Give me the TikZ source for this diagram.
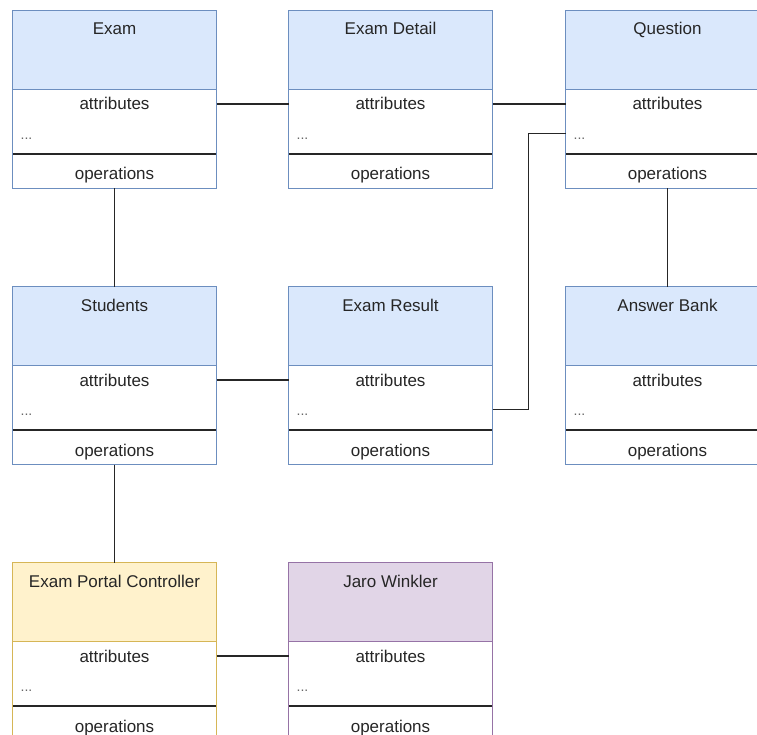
\documentclass[tikz,border=0pt]{standalone}
\usepackage{fontspec}
\setmainfont{Liberation Sans}
\usetikzlibrary{calc}
\definecolor{bluefill}{HTML}{DAE8FC}
\definecolor{bluestroke}{HTML}{6C8EBF}
\definecolor{yellowfill}{HTML}{FFF2CC}
\definecolor{yellowstroke}{HTML}{D6B656}
\definecolor{purplefill}{HTML}{E1D5E7}
\definecolor{purplestroke}{HTML}{9673A6}
\tikzset{
  umlframe/.style={rectangle, minimum width=204pt, minimum height=178pt, inner sep=0pt, outer sep=0pt, anchor=north west},
  lbl/.style={font=\fontsize{17}{20}\selectfont, text=black!85, inner sep=0pt, anchor=base},
  dotslbl/.style={font=\fontsize{14}{16}\selectfont, text=black!60, inner sep=0pt, anchor=base west},
  conn/.style={draw=black!85, line width=1.4pt},
}
\newcommand{\umlbox}[6]{%
  \node[umlframe, fill=white] (#1) at (#2,#3) {};
  \fill[#5] (#1.north west) rectangle ($(#1.north east)+(0,-79)$);
  \draw[#6, line width=1.1pt] ($(#1.north west)+(0,-79)$) -- ($(#1.north east)+(0,-79)$);
  \draw[black!85, line width=1.4pt] ($(#1.north west)+(0,-143.5)$) -- ($(#1.north east)+(0,-143.5)$);
  \draw[#6, line width=1.1pt] (#1.north west) rectangle (#1.south east);
  \node[lbl] (#1-t) at ($(#1.north)+(0,-24.5)$) {#4};
  \node[lbl] (#1-a) at ($(#1.north)+(0,-99.5)$) {attributes};
  \node[dotslbl] (#1-d) at ($(#1.north west)+(8,-129)$) {...};
  \node[lbl] (#1-o) at ($(#1.north)+(0,-169.5)$) {operations};
}
\begin{document}
\begin{tikzpicture}[x=1pt,y=1pt]
\clip (0,0) rectangle (757,-735);
\fill[white] (0,0) rectangle (757,-735);

\umlbox{exam}{12.5}{-10.5}{Exam}{bluefill}{bluestroke}
\umlbox{detail}{288.5}{-10.5}{Exam Detail}{bluefill}{bluestroke}
\umlbox{question}{565.5}{-10.5}{Question}{bluefill}{bluestroke}
\umlbox{students}{12.5}{-286.5}{Students}{bluefill}{bluestroke}
\umlbox{result}{288.5}{-286.5}{Exam Result}{bluefill}{bluestroke}
\umlbox{answer}{565.5}{-286.5}{Answer Bank}{bluefill}{bluestroke}
\umlbox{controller}{12.5}{-562.5}{Exam Portal Controller}{yellowfill}{yellowstroke}
\umlbox{jaro}{288.5}{-562.5}{Jaro Winkler}{purplefill}{purplestroke}

\draw[conn] (exam.east |- exam-a) -- (detail.west |- exam-a);
\draw[conn] (detail.east |- detail-a) -- (question.west |- detail-a);
\draw[conn] (exam.south) -- (students.north);
\draw[conn] (question.south) -- (answer.north);
\draw[conn] (students.east |- students-a) -- (result.west |- students-a);
\draw[conn] ($(result.north east)+(0,-123)$) -- ++(36,0) |- ($(question.north west)+(0,-123)$);
\draw[conn] (students.south) -- (controller.north);
\draw[conn] (controller.east |- controller-a) -- (jaro.west |- controller-a);
\end{tikzpicture}
\end{document}
